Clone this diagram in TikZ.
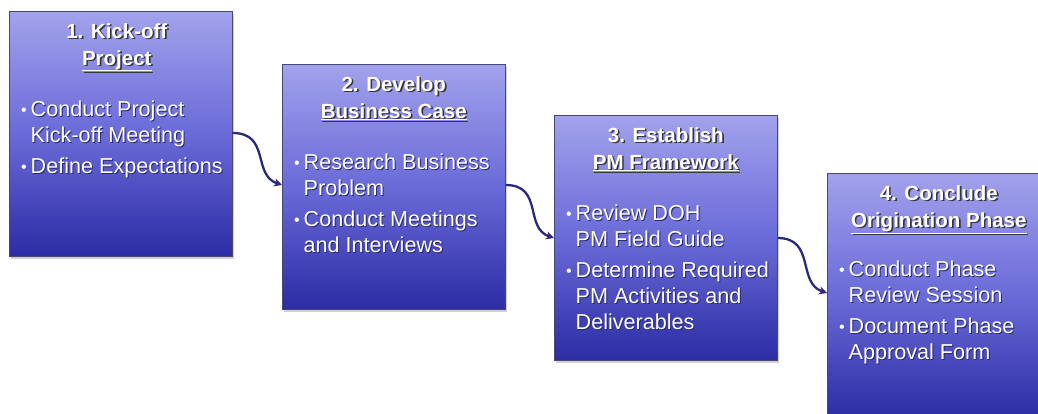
\documentclass[tikz,border=0pt]{standalone}
\usepackage{fontspec}
\setmainfont{Liberation Sans}
\usetikzlibrary{calc,arrows.meta}
\definecolor{boxtop}{RGB}{162,162,236}
\definecolor{boxmid}{RGB}{106,106,216}
\definecolor{boxbot}{RGB}{44,44,164}
\definecolor{boxedge}{RGB}{70,70,120}
\definecolor{conncol}{RGB}{42,42,120}
\definecolor{tshadow}{RGB}{55,55,65}
\definecolor{bshadow}{RGB}{40,40,110}
\newcommand\shtext[3]{\leavevmode\rlap{\kern#3\raisebox{-#3}{\color{#1}#2}}#2}
\newcommand\bul{\makebox[9.5pt][l]{\raisebox{0.5pt}{\fontsize{16}{16}\selectfont •}}}
\tikzset{
  stagebox/.style={anchor=north west, inner sep=0pt, minimum width=223pt, minimum height=245pt,
    draw=boxedge, line width=0.6pt, top color=boxtop, bottom color=boxbot, middle color=boxmid,
    preaction={fill=black, fill opacity=0.18, transform canvas={xshift=2pt,yshift=-2.5pt}}},
  titletxt/.style={anchor=base, inner sep=0pt, text=white, font=\fontsize{20.5}{22}\selectfont\bfseries},
  bodytxt/.style={anchor=base west, inner sep=0pt, text=white, font=\fontsize{21.6}{24}\selectfont},
  conn/.style={draw=conncol, line width=2.3pt, -{Stealth[length=8pt,width=8pt]}}
}
\newcommand\ttl[1]{\shtext{tshadow}{#1}{1.6pt}}
\newcommand\bdy[1]{\shtext{bshadow}{#1}{1pt}}
\begin{document}
\begin{tikzpicture}[x=1pt,y=-1pt]
\useasboundingbox (0,0) rectangle (1038,413);
\clip (0,0) rectangle (1038,413);
\fill[white] (0,0) rectangle (1038,413);
% boxes
\node[stagebox] (b1) at (9,11) {};
\node[stagebox] (b2) at (282,64) {};
\node[stagebox] (b3) at (554,115) {};
\node[stagebox] (b4) at (827,173) {};
% titles
\node[titletxt] (t1a) at ($(b1.north)+(-4,27)$) {\ttl{1. Kick-off}};
\node[titletxt] (t1b) at ($(b1.north)+(-4,54)$) {\ttl{\underline{Project}}};
\node[titletxt] (t2a) at ($(b2.north)+(0,27)$) {\ttl{2. Develop}};
\node[titletxt] (t2b) at ($(b2.north)+(0,54)$) {\ttl{\underline{Business Case}}};
\node[titletxt] (t3a) at ($(b3.north)+(0,27)$) {\ttl{3. Establish}};
\node[titletxt] (t3b) at ($(b3.north)+(0,54)$) {\ttl{\underline{PM Framework}}};
\node[titletxt] (t4a) at ($(b4.north)+(0,27)$) {\ttl{4. Conclude}};
\node[titletxt] (t4b) at ($(b4.north)+(0,54)$) {\ttl{\underline{Origination Phase}}};
% body box 1
\node[bodytxt] (p1a) at ($(b1.north west)+(12,105)$) {\bul\bdy{Conduct Project}};
\node[bodytxt] (p1b) at ($(b1.north west)+(21.5,131)$) {\bdy{Kick-off Meeting}};
\node[bodytxt] (p1c) at ($(b1.north west)+(12,162)$) {\bul\bdy{Define Expectations}};
% body box 2
\node[bodytxt] (p2a) at ($(b2.north west)+(12,105)$) {\bul\bdy{Research Business}};
\node[bodytxt] (p2b) at ($(b2.north west)+(21.5,131)$) {\bdy{Problem}};
\node[bodytxt] (p2c) at ($(b2.north west)+(12,162)$) {\bul\bdy{Conduct Meetings}};
\node[bodytxt] (p2d) at ($(b2.north west)+(21.5,188)$) {\bdy{and Interviews}};
% body box 3
\node[bodytxt] (p3a) at ($(b3.north west)+(12,105)$) {\bul\bdy{Review DOH}};
\node[bodytxt] (p3b) at ($(b3.north west)+(21.5,131)$) {\bdy{PM Field Guide}};
\node[bodytxt] (p3c) at ($(b3.north west)+(12,162)$) {\bul\bdy{Determine Required}};
\node[bodytxt] (p3d) at ($(b3.north west)+(21.5,188)$) {\bdy{PM Activities and}};
\node[bodytxt] (p3e) at ($(b3.north west)+(21.5,214)$) {\bdy{Deliverables}};
% body box 4
\node[bodytxt] (p4a) at ($(b4.north west)+(12,103)$) {\bul\bdy{Conduct Phase}};
\node[bodytxt] (p4b) at ($(b4.north west)+(21.5,129)$) {\bdy{Review Session}};
\node[bodytxt] (p4c) at ($(b4.north west)+(12,160)$) {\bul\bdy{Document Phase}};
\node[bodytxt] (p4d) at ($(b4.north west)+(21.5,186)$) {\bdy{Approval Form}};
% connectors
\coordinate (c1s) at ($(b1.north east)+(0,122)$);
\coordinate (c1e) at ($(b2.north west)+(0,121)$);
\coordinate (c2s) at ($(b2.north east)+(0,121)$);
\coordinate (c2e) at ($(b3.north west)+(0,123)$);
\coordinate (c3s) at ($(b3.north east)+(0,123)$);
\coordinate (c3e) at ($(b4.north west)+(0,120)$);
\draw[conn] (c1s) .. controls +(38,0) and +(-30,-10) .. (c1e);
\draw[conn] (c2s) .. controls +(38,0) and +(-30,-10) .. (c2e);
\draw[conn] (c3s) .. controls +(38,0) and +(-30,-10) .. (c3e);
\end{tikzpicture}
\end{document}
